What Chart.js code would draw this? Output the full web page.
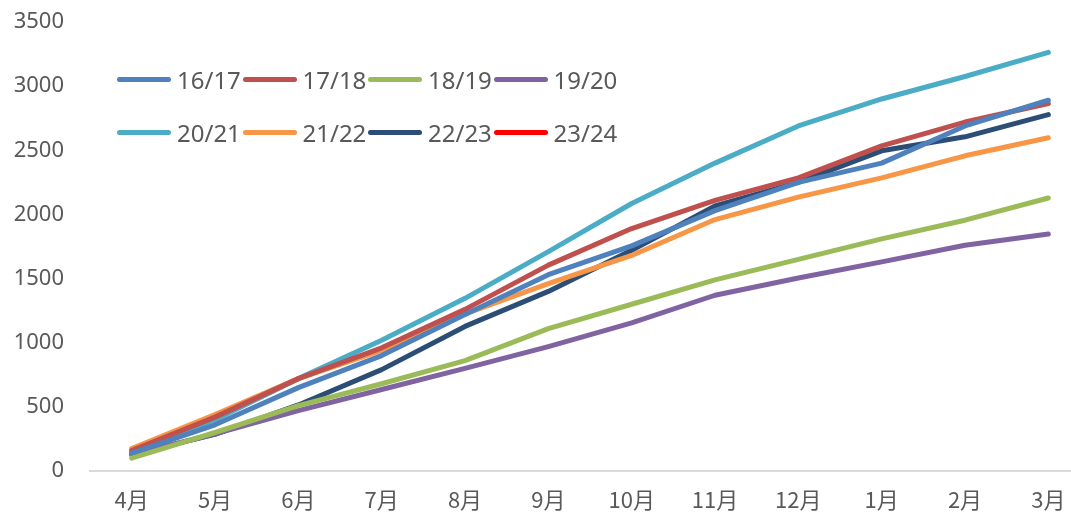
<!DOCTYPE html>
<html>
<head>
<meta charset="utf-8">
<script src="https://cdn.jsdelivr.net/npm/chart.js@4.4.0/dist/chart.umd.min.js"></script>
<style>
  html, body { margin: 0; padding: 0; background: #fff; overflow: hidden; }
  #wrap { position: relative; width: 1090px; height: 512px; }
  #legend { position: absolute; left: 117px; top: 62px; width: 520px; font-family: "Noto Sans", sans-serif; font-size: 24px; color: #595959; }
  .item { position: absolute; display: flex; align-items: center; height: 34px; }
  .swatch { width: 54px; height: 5px; border-radius: 3px; margin-right: 6px; }
</style>
</head>
<body>
<div id="wrap">
  <canvas id="chart" width="1090" height="512"></canvas>
  <div id="legend"></div>
</div>
<script>
const months = ['4月', '5月', '6月', '7月', '8月', '9月', '10月', '11月', '12月', '1月', '2月', '3月'];
const seasons = ['16/17', '17/18', '18/19', '19/20', '20/21', '21/22', '22/23', '23/24'];
const colors = ['#4F81BD', '#C0504D', '#9BBB59', '#8064A2', '#4BACC6', '#F79646', '#2C4D75', '#FF0000'];

const s1617 = [140, 360, 650, 900, 1220, 1530, 1755, 2030, 2250, 2400, 2690, 2890];
const s1718 = [160, 420, 720, 960, 1260, 1605, 1890, 2110, 2285, 2535, 2720, 2865];
const s1819 = [100, 300, 510, 680, 860, 1110, 1300, 1490, 1650, 1810, 1955, 2128];
const s1920 = [125, 290, 470, 635, 800, 970, 1155, 1370, 1505, 1630, 1760, 1847];
const s2021 = [150, 400, 720, 1020, 1346, 1710, 2085, 2400, 2690, 2900, 3075, 3263];
const s2122 = [175, 440, 720, 940, 1225, 1460, 1680, 1960, 2135, 2285, 2457, 2598];
const s2223 = [130, 285, 515, 790, 1127, 1400, 1720, 2066, 2250, 2496, 2605, 2778];
const s2324 = [];

const seriesData = [s1617, s1718, s1819, s1920, s2021, s2122, s2223, s2324];

const datasets = seasons.map((name, i) => ({
    label: name,
    data: seriesData[i],
    borderColor: colors[i],
    backgroundColor: colors[i],
    borderWidth: 5,
    pointRadius: 0,
    tension: 0,
    borderCapStyle: 'round',
    borderJoinStyle: 'round',
    fill: false
}));

const ctx = document.getElementById('chart').getContext('2d');

const chart = new Chart(ctx, {
    type: 'line',
    data: { labels: months, datasets: datasets },
    options: {
        responsive: false,
        animation: false,
        layout: { padding: { top: 22, right: 0, left: 0, bottom: 0 } },
        scales: {
            x: {
                offset: true,
                grid: { display: true, drawOnChartArea: false, drawTicks: false },
                border: { display: true, color: '#d9d9d9', width: 2 },
                ticks: {
                    color: '#595959',
                    padding: 15,
                    maxRotation: 0,
                    autoSkip: false,
                    font: { family: '"Noto Sans CJK SC", "Noto Sans", sans-serif', size: 22 }
                },
                afterFit: function(scale) { scale.height = 41; }
            },
            y: {
                min: 0,
                max: 3500,
                grid: { display: false },
                border: { display: false },
                ticks: {
                    stepSize: 500,
                    color: '#595959',
                    padding: 18,
                    font: { family: '"Noto Sans", sans-serif', size: 22 },
                    callback: function(v) { return String(v); }
                },
                afterFit: function(scale) {
                    scale.width = 90;
                    // tick padding should only act horizontally
                    scale.paddingTop = 13;
                    scale.paddingBottom = 13;
                }
            }
        },
        plugins: {
            legend: { display: false },
            tooltip: { enabled: false }
        }
    }
});

// legend inside the plot, 4 columns x 2 rows
const legend = document.getElementById('legend');
chart.data.datasets.forEach((ds, i) => {
    const item = document.createElement('div');
    item.className = 'item';
    item.style.left = ((i % 4) * 125.5) + 'px';
    item.style.top = (Math.floor(i / 4) * 53) + 'px';
    const sw = document.createElement('span');
    sw.className = 'swatch';
    sw.style.background = ds.borderColor;
    const txt = document.createElement('span');
    txt.textContent = ds.label;
    item.appendChild(sw);
    item.appendChild(txt);
    legend.appendChild(item);
});
</script>
</body>
</html>
